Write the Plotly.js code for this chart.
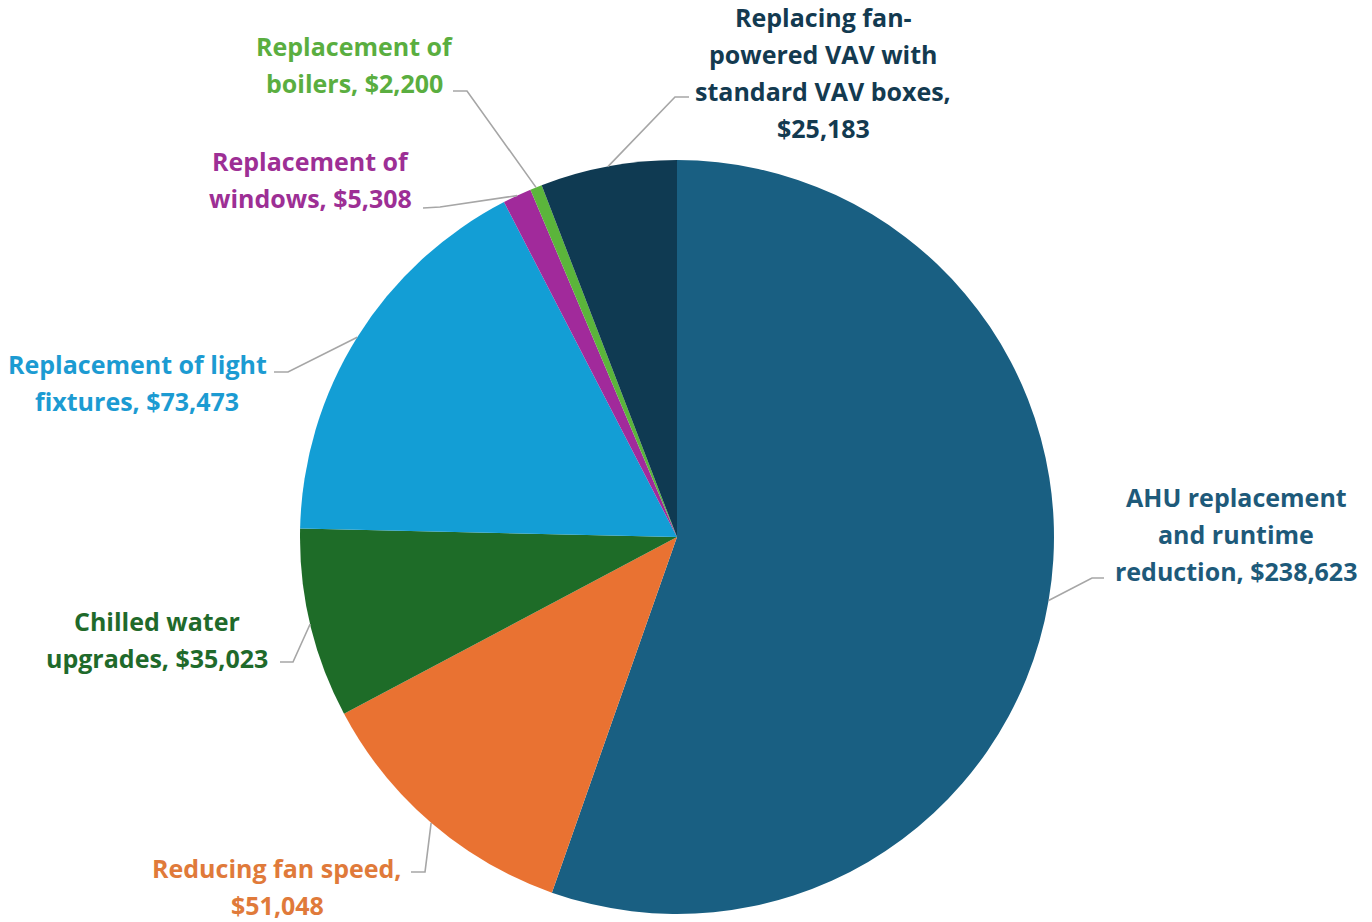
<!DOCTYPE html>
<html>
<head>
<meta charset="utf-8">
<script src="https://cdn.plot.ly/plotly-3.0.1.min.js"></script>
<style>
html,body{margin:0;padding:0;background:#fff;}
#chart{width:1372px;height:922px;}
</style>
</head>
<body>
<div id="chart"></div>
<script>
// ---- data ----
const categories = [
  "AHU replacement and runtime reduction",
  "Reducing fan speed",
  "Chilled water upgrades",
  "Replacement of light fixtures",
  "Replacement of windows",
  "Replacement of boilers",
  "Replacing fan-powered VAV with standard VAV boxes"
];
const savings = [238623, 51048, 35023, 73473, 5308, 2200, 25183];
const labelLines = [
  ["AHU replacement", "and runtime", "reduction, $238,623"],
  ["Reducing fan speed,", "$51,048"],
  ["Chilled water", "upgrades, $35,023"],
  ["Replacement of light", "fixtures, $73,473"],
  ["Replacement of", "windows, $5,308"],
  ["Replacement of", "boilers, $2,200"],
  ["Replacing fan-", "powered VAV with", "standard VAV boxes,", "$25,183"]
];
const sliceColors = ["#195f82", "#e97232", "#1e6c28", "#139ed5", "#a12a9b", "#5bb53b", "#0f3a52"];
const textColors  = ["#1e5a7a", "#e07a3a", "#1f6a2b", "#1c9bd2", "#9d2f95", "#5aae40", "#133a50"];

// ---- layout geometry (pixels) ----
const W = 1372, H = 922;
const cx = 677, cy = 537, R = 377;
// label anchors: [centerX, firstLineY]
const labelPos = [[1236, 497], [277, 868], [157, 621], [137, 364], [310, 161], [354, 46], [823, 17]];
const lineGap = 37;
// leader line bends: [elbowX, elbowY, endX, endY]
const leaderBends = [
  [1092, 578, 1104, 578],
  [425, 872, 411, 872],
  [293, 662, 280, 662],
  [288, 372, 274, 372],
  [440, 207, 423, 208],
  [467, 91, 453, 91],
  [675, 97, 689, 97]
];

const px = x => x / W;
const py = y => 1 - y / H;

const total = savings.reduce((a, b) => a + b, 0);
let cum = 0;
const shapes = [];
const annotations = [];
savings.forEach((v, i) => {
  const mid = (cum + v / 2) / total;
  cum += v;
  const ang = mid * 2 * Math.PI;
  const ex = cx + R * Math.sin(ang);
  const ey = cy - R * Math.cos(ang);
  const b = leaderBends[i];
  shapes.push({
    type: "path", xref: "paper", yref: "paper",
    path: `M ${px(ex)} ${py(ey)} L ${px(b[0])} ${py(b[1])} L ${px(b[2])} ${py(b[3])}`,
    line: {color: "#a6a6a6", width: 1.6}
  });
  labelLines[i].forEach((t, k) => {
    annotations.push({
      xref: "paper", yref: "paper",
      x: px(labelPos[i][0]), y: py(labelPos[i][1] + k * lineGap),
      xanchor: "center", yanchor: "middle",
      text: t, showarrow: false,
      font: {family: "'Open Sans', sans-serif", size: 25, color: textColors[i], weight: "bold"}
    });
  });
});

const trace = {
  type: "pie",
  labels: categories,
  values: savings,
  sort: false,
  direction: "clockwise",
  rotation: 0,
  textinfo: "none",
  hoverinfo: "label+value",
  marker: {colors: sliceColors, line: {width: 0}},
  domain: {x: [px(cx - R), px(cx + R)], y: [py(cy + R), py(cy - R)]},
  showlegend: false
};

Plotly.newPlot("chart", [trace], {
  width: W, height: H,
  margin: {l: 0, r: 0, t: 0, b: 0},
  paper_bgcolor: "#ffffff",
  showlegend: false,
  shapes: shapes,
  annotations: annotations
}, {displayModeBar: false, staticPlot: true});
</script>
</body>
</html>
